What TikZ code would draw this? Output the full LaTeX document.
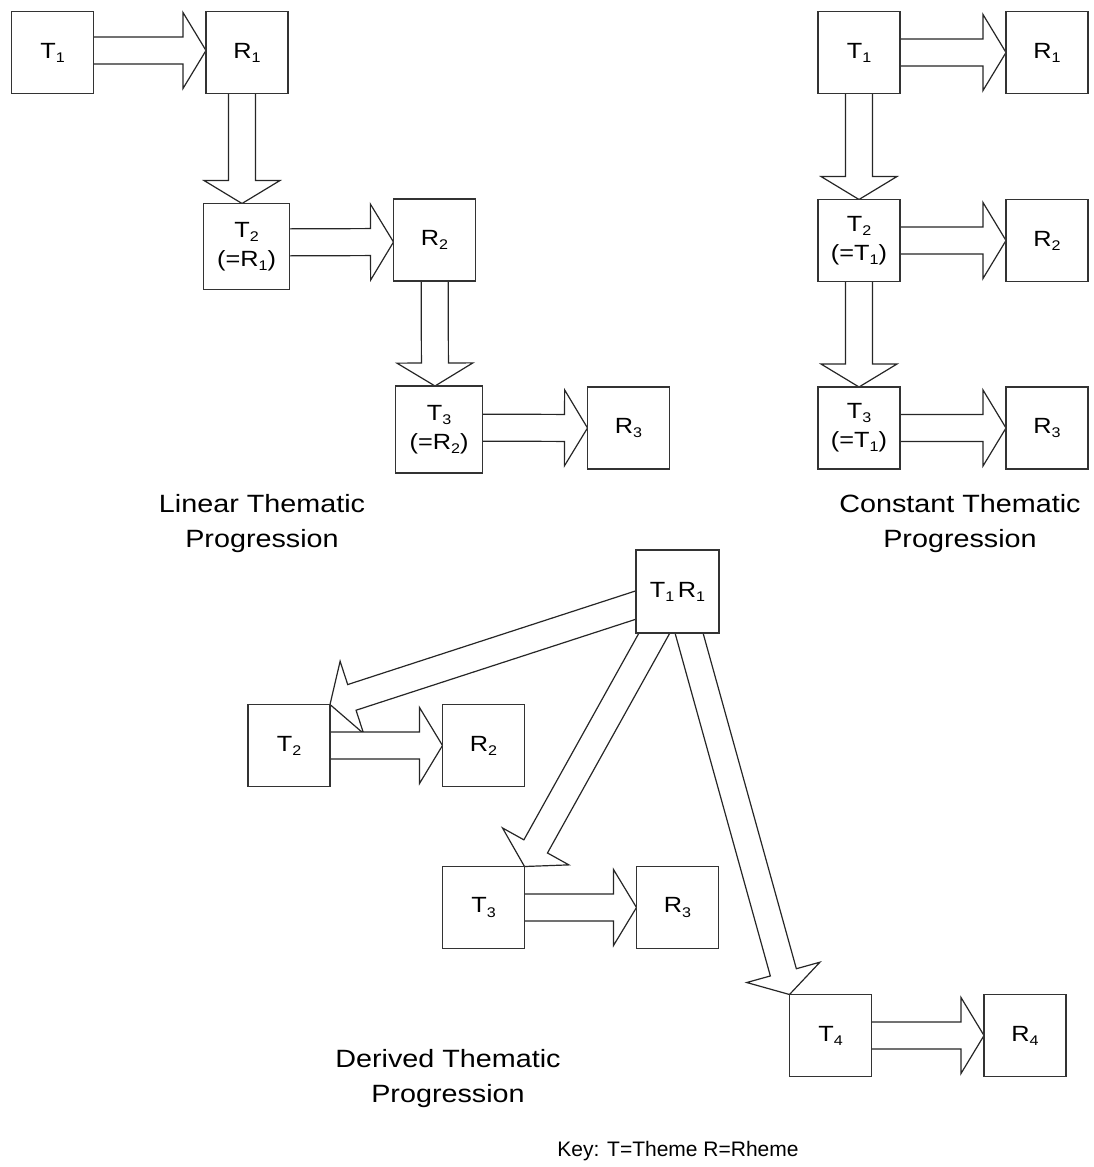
\documentclass[tikz,border=0pt]{standalone}
\usepackage{fontspec}
\setmainfont{Liberation Sans}[FakeStretch=1.15]
\newfontfamily\keyfont{Liberation Sans}
\usetikzlibrary{calc}
\pgfdeclarelayer{arrows}
\pgfsetlayers{arrows,main}

% small lowered index digit
\newcommand{\sbs}[1]{\raisebox{-0.35ex}{\fontsize{14}{14}\selectfont #1}}

% hollow block arrow from #1 to the tip #2
\newcommand{\blockarr}[2]{%
  \coordinate (ba-s) at #1;
  \coordinate (ba-e) at #2;
  \coordinate (ba-b) at ($(ba-e)!23pt!(ba-s)$);
  \draw[blockarrow]
    ($(ba-s)!13.5pt!90:(ba-e)$) --
    ($(ba-b)!13.5pt!-90:(ba-s)$) --
    ($(ba-b)!38pt!-90:(ba-s)$) --
    (ba-e) --
    ($(ba-b)!38pt!90:(ba-s)$) --
    ($(ba-b)!13.5pt!90:(ba-s)$) --
    ($(ba-s)!13.5pt!-90:(ba-e)$) -- cycle;
}

\tikzset{
  box/.style={draw=black!80, line width=1.6pt, fill=white, outer sep=0pt,
    minimum width=82pt, minimum height=82pt, inner sep=0pt, align=center,
    font=\fontsize{22}{29}\selectfont},
  blockarrow/.style={draw=black!85, line width=1.2pt, fill=white, line join=miter},
  title/.style={align=center, font=\fontsize{25}{35}\selectfont},
}

\begin{document}
\begin{tikzpicture}[x=1pt, y=-1pt]
\useasboundingbox (0,0) rectangle (1093,1167);

% ---- linear progression ----
\node[box] (lT1) at (52.5,52.5) {T\sbs{1}};
\node[box] (lR1) at (247,52.5) {R\sbs{1}};
\node[box, minimum width=86pt, minimum height=86pt] (lT2) at (246.5,246.5) {T\sbs{2}\\(=R\sbs{1})};
\node[box] (lR2) at (434.5,240) {R\sbs{2}};
\node[box, minimum width=87pt, minimum height=87pt] (lT3) at (439,429.5) {T\sbs{3}\\(=R\sbs{2})};
\node[box] (lR3) at (628.5,428) {R\sbs{3}};

% ---- constant progression ----
\node[box] (cT1) at (859,52.5) {T\sbs{1}};
\node[box] (cR1) at (1047,52.5) {R\sbs{1}};
\node[box] (cT2) at (859,240.5) {T\sbs{2}\\(=T\sbs{1})};
\node[box] (cR2) at (1047,240.5) {R\sbs{2}};
\node[box] (cT3) at (859,428) {T\sbs{3}\\(=T\sbs{1})};
\node[box] (cR3) at (1047,428) {R\sbs{3}};

% ---- derived progression ----
\node[box, minimum width=83pt, minimum height=83pt] (dTR) at (677.5,591.5) {T\sbs{1}\,R\sbs{1}};
\node[box] (dT2) at (289,745.5) {T\sbs{2}};
\node[box] (dR2) at (483.5,745.5) {R\sbs{2}};
\node[box] (dT3) at (483.5,907.5) {T\sbs{3}};
\node[box] (dR3) at (677.5,907.5) {R\sbs{3}};
\node[box] (dT4) at (830.5,1035.5) {T\sbs{4}};
\node[box] (dR4) at (1025,1035.5) {R\sbs{4}};

% ---- captions ----
\node[title] (linTitle) at (262,524) {Linear Thematic\\Progression};
\node[title] (conTitle) at (960,524) {Constant Thematic\\Progression};
\node[title] (derTitle) at (448,1078.5) {Derived Thematic\\Progression};
\node[title, font=\keyfont\fontsize{21}{26}\selectfont] (keyText) at (678,1151) {Key: T=Theme R=Rheme};

\begin{pgfonlayer}{arrows}
  % linear
  \blockarr{($(lT1.center)+(0,-2)$)}{($(lR1.west)+(0,-2)$)}
  \blockarr{($(lR1.center)+(-5,0)$)}{($(lT2.north)+(-4.5,0)$)}
  \blockarr{($(lT2.center)+(0,-4)$)}{($(lR2.west)+(0,2)$)}
  \blockarr{(lR2.center)}{($(lT3.north)+(-4,0)$)}
  \blockarr{($(lT3.center)+(0,-2)$)}{(lR3.west)}
  % constant
  \blockarr{(cT1.center)}{(cR1.west)}
  \blockarr{(cT1.center)}{(cT2.north)}
  \blockarr{(cT2.center)}{(cR2.west)}
  \blockarr{(cT2.center)}{(cT3.north)}
  \blockarr{(cT3.center)}{(cR3.west)}
  % derived
  \blockarr{(dTR.center)}{(dT2.north east)}
  \blockarr{(dTR.center)}{(dT3.north east)}
  \blockarr{(dTR.center)}{(dT4.north west)}
  \blockarr{(dT2.center)}{(dR2.west)}
  \blockarr{(dT3.center)}{(dR3.west)}
  \blockarr{(dT4.center)}{(dR4.west)}
\end{pgfonlayer}
\end{tikzpicture}
\end{document}
